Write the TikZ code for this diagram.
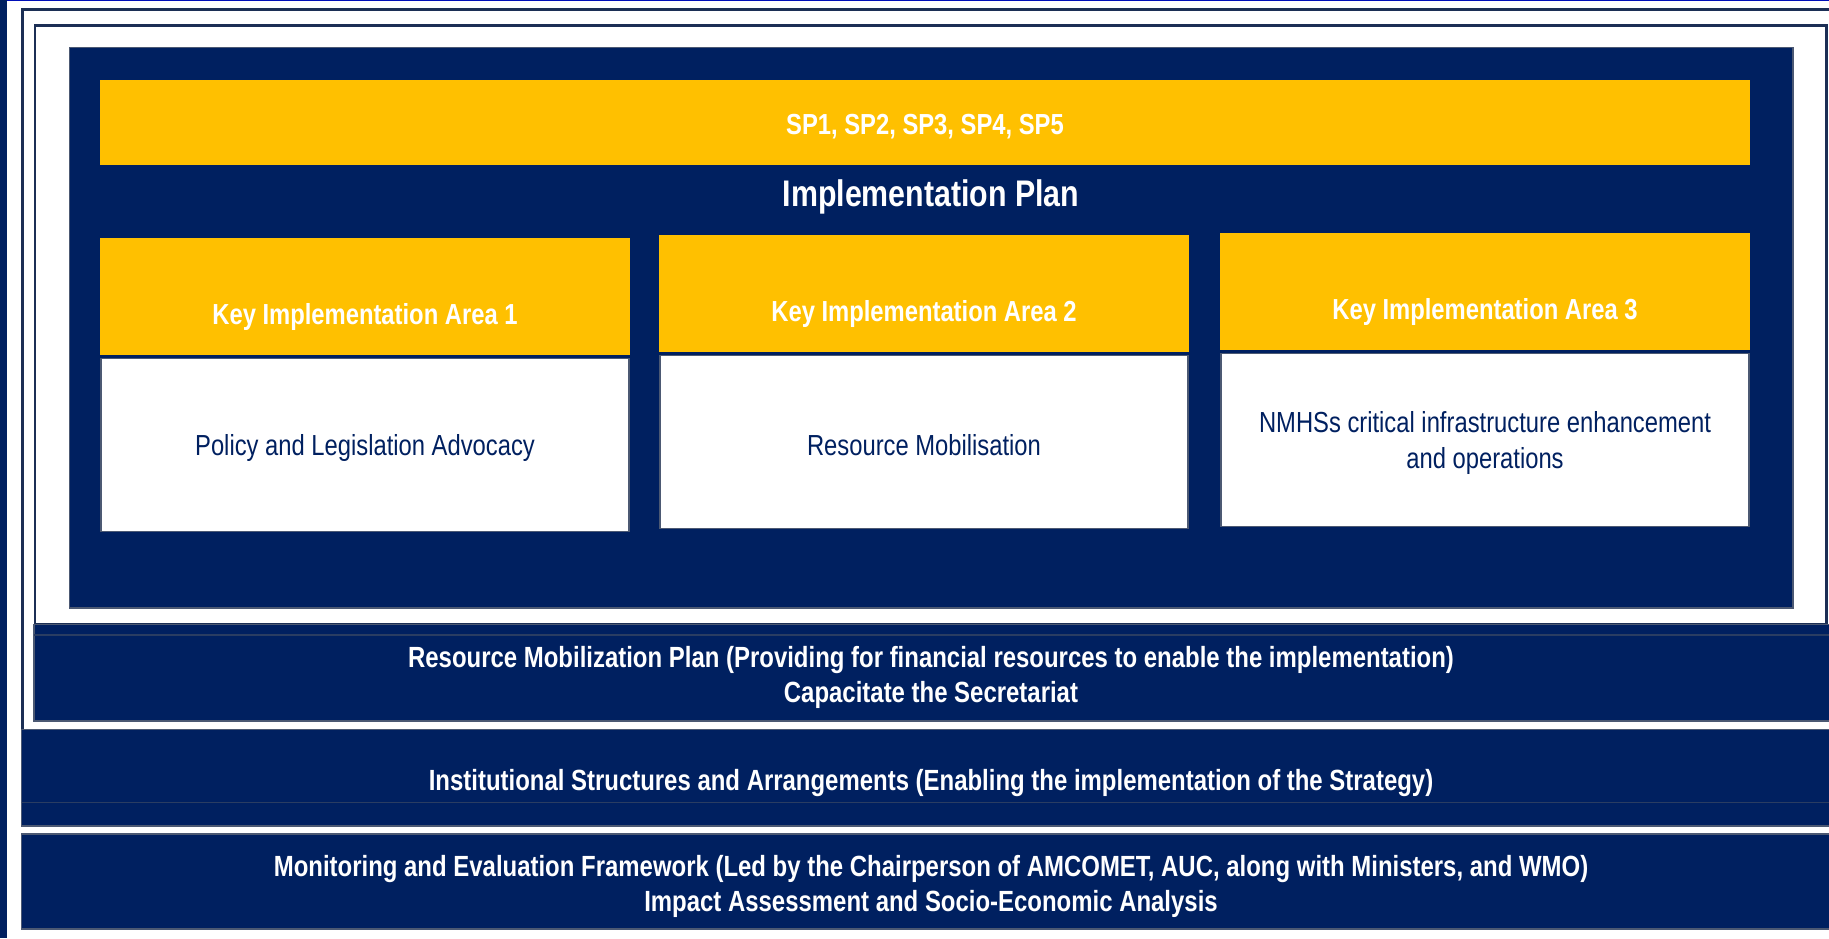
\documentclass[tikz,border=0pt]{standalone}
\usepackage{fontspec}
\setmainfont{Liberation Sans}[FakeStretch=0.82]
\usetikzlibrary{positioning}

\definecolor{navy}{HTML}{002060}
\definecolor{gold}{HTML}{FFC000}
\definecolor{rim}{HTML}{1C2F55}
\definecolor{seam}{HTML}{2A3D62}

\tikzset{
    head/.style={fill=gold, text=white, font=\bfseries\fontsize{14.5}{17}\selectfont,
        minimum width=265pt, inner sep=0pt, text height=43pt, text depth=15.5pt, anchor=north},
    body/.style={fill=white, draw=gray!60!navy, line width=0.6pt, text=navy,
        font=\fontsize{14.5}{18}\selectfont, align=center, minimum width=264pt, minimum height=86.5pt},
    band/.style={text=white, font=\bfseries\fontsize{14.6}{17.5}\selectfont, align=center}
}

\begin{document}
\begin{tikzpicture}[x=0.5pt,y=-0.5pt]
        \useasboundingbox (0,0) rectangle (1829,938);
        \clip (0,0) rectangle (1829,938);
        \fill[white] (0,0) rectangle (1829,938);

        % side bar and top rule
        \fill[navy] (0,0) rectangle (7,938);
        \draw[blue!55!navy, line width=0.6pt] (7,0.6) -- (1829,0.6);

        % nested frames
        \draw[rim, line width=1.5pt, fill=white] (22.5,9.5) rectangle (1840,802);
        \draw[rim, line width=1.2pt, fill=white] (35,25.5) rectangle (1826.5,624);

        % implementation plan panel
        \filldraw[fill=navy, draw=gray!60!navy, line width=0.6pt] (69.5,47.5) rectangle (1793,608);
        \node[head, minimum width=825pt, text height=27pt] (sp) at (925,80) {SP1, SP2, SP3, SP4, SP5};
        \node[text=white, font=\bfseries\fontsize{18.5}{22}\selectfont, anchor=base] (plan) at (931,206) {Implementation Plan};

        \foreach \k/\cx/\top/\txt in {1/365/238/{Policy and Legislation Advocacy},
                                      2/924/235/{Resource Mobilisation},
                                      3/1485/233/{NMHSs critical infrastructure enhancement\\and operations}} {
            \node[head] (kia_\k) at (\cx,\top) {Key Implementation Area \k};
            \node[body, below=1pt of kia_\k] (area_\k) {\raisebox{-1.5pt}[\height][\depth]{\parbox{250pt}{\centering\txt}}};
        }

        % lower bands
        \filldraw[fill=navy, draw=gray!60!navy, line width=0.6pt] (34,624.5) rectangle (1840,721);
        \draw[seam, line width=0.8pt] (34,635) -- (1840,635);
        \node[band] (funding) at (931,677) {Resource Mobilization Plan (Providing for financial resources to enable the implementation)\\Capacitate the Secretariat};

        \filldraw[fill=navy, draw=gray!60!navy, line width=0.6pt] (21.5,729.5) rectangle (1840,826);
        \draw[seam, line width=0.8pt] (21.5,802.5) -- (1840,802.5);
        \node[band, anchor=base] (institutions) at (931,790) {Institutional Structures and Arrangements (Enabling the implementation of the Strategy)};

        \filldraw[fill=navy, draw=gray!60!navy, line width=0.6pt] (21.5,834) rectangle (1840,929);
        \node[band] (monitoring) at (931,886) {Monitoring and Evaluation Framework (Led by the Chairperson of AMCOMET, AUC, along with Ministers, and WMO)\\Impact Assessment and Socio-Economic Analysis};

\end{tikzpicture}
\end{document}
